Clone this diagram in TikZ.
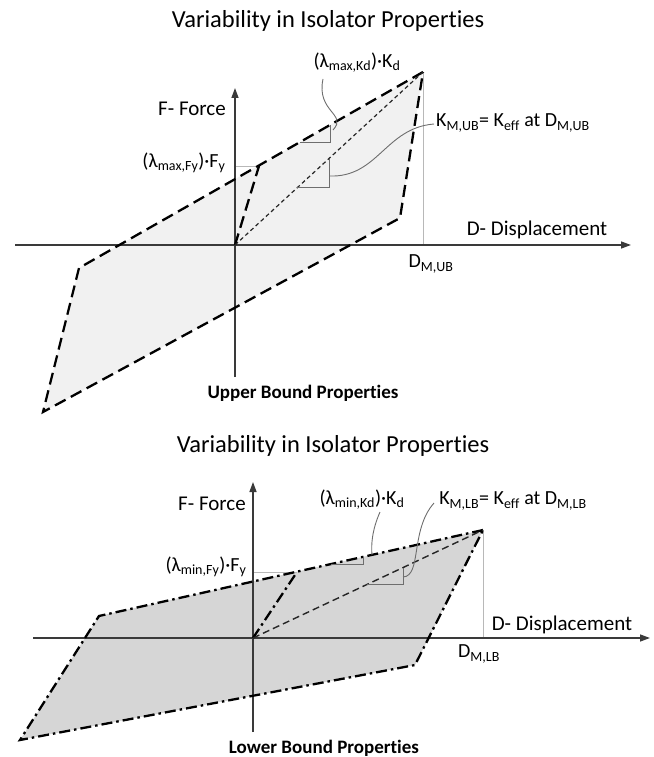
\documentclass[tikz,border=0pt]{standalone}
\usepackage{fontspec}
\setmainfont{Carlito}[Ligatures=NoCommon]
\usetikzlibrary{arrows.meta}
\definecolor{axisgray}{HTML}{3A3A3A}
\definecolor{guidegray}{HTML}{B8B8B8}
\definecolor{leadgray}{HTML}{6E6E6E}
\definecolor{fillub}{HTML}{F1F1F1}
\definecolor{filllb}{HTML}{D6D6D6}
\begin{document}
\begin{tikzpicture}[x=1pt,y=-1pt,
  axis/.style={draw=axisgray,line width=1.4pt,-{Triangle[length=10pt,width=7pt]}},
  guide/.style={draw=guidegray,line width=0.9pt},
  leader/.style={draw=leadgray,line width=0.9pt},
  ubloop/.style={draw=black,line width=2.3pt,dash pattern=on 12pt off 6pt},
  lbloop/.style={draw=black,line width=2.3pt,dash pattern=on 11pt off 4pt on 2.5pt off 4pt},
  ubsec/.style={draw=black!85,line width=1.2pt,dash pattern=on 4pt off 3pt},
  lbsec/.style={draw=black!85,line width=1.4pt,dash pattern=on 7pt off 4pt},
  lbl/.style={inner sep=0pt,font=\fontsize{21}{24}\selectfont},
  sublbl/.style={inner sep=0pt,font=\fontsize{20}{23}\selectfont},
  ttl/.style={inner sep=0pt,font=\fontsize{24.5}{28}\selectfont},
  capt/.style={inner sep=0pt,font=\fontsize{19}{22}\selectfont\bfseries},
]
\useasboundingbox (0,0) rectangle (653,757);

% ---------------- Upper bound panel ----------------
\coordinate (O1) at (235,245);
\coordinate (P1) at (423,72);
\coordinate (LR1) at (400,218);
\coordinate (BL1) at (43,412);
\coordinate (LC1) at (79,268);
\coordinate (Y1) at (259,166);
\coordinate (XL1) at (15,245);
\coordinate (XR1) at (631,245);
\coordinate (YB1) at (235,377);
\coordinate (YT1) at (235,88);
\coordinate (PB1) at (423,245);
\coordinate (YA1) at (235,166);

\fill[fillub] (P1) -- (LC1) -- (BL1) -- (LR1) -- cycle;
\draw[guide] (P1) -- (PB1);
\draw[guide] (YA1) -- (Y1);
\draw[axis] (XL1) -- (XR1);
\draw[axis] (YB1) -- (YT1);
\draw[ubloop] (P1) -- (LC1) -- (BL1) -- (LR1) -- cycle;
\draw[ubloop] (O1) -- (Y1);
\draw[ubsec] (O1) -- (P1);

\coordinate (KdA1) at (300,142.1);
\coordinate (KdB1) at (330,142.1);
\coordinate (KdC1) at (330,125);
\draw[leader] (KdA1) -- (KdB1) -- (KdC1);
\coordinate (KeA1) at (297,187.9);
\coordinate (KeB1) at (329,187.9);
\coordinate (KeC1) at (329,158.5);
\draw[leader] (KeA1) -- (KeB1) -- (KeC1);

\node[ttl] (title1) at (328,21) {Variability in Isolator Properties};
\node[lbl] (force1) at (192,109) {F- Force};
\node[lbl] (disp1) at (537,230) {D- Displacement};
\node[sublbl] (dm1) at (431,264) {D\textsubscript{M,UB}};
\node[sublbl] (fy1) at (184,163) {(λ\textsubscript{max,Fy})·F\textsubscript{y}};
\node[sublbl] (kd1) at (357,63) {(λ\textsubscript{max,Kd})·K\textsubscript{d}};
\node[sublbl] (ke1) at (513,123) {K\textsubscript{M,UB}= K\textsubscript{eff} at D\textsubscript{M,UB}};
\node[capt] (cap1) at (303,393) {Upper Bound Properties};

\coordinate (LdA1) at (323,79);
\coordinate (LdB1) at (333,130);
\draw[leader] (LdA1) .. controls (316,112) and (348,114) .. (LdB1);
\coordinate (LeA1) at (434,124);
\coordinate (LeB1) at (329,176);
\draw[leader] (LeA1) .. controls (385,128) and (378,178) .. (LeB1);

% ---------------- Lower bound panel ----------------
\coordinate (O2) at (253,638);
\coordinate (P2) at (483,530);
\coordinate (LR2) at (415,665);
\coordinate (BL2) at (20,740);
\coordinate (LC2) at (99,616);
\coordinate (Y2) at (297,572);
\coordinate (XL2) at (33,638);
\coordinate (XR2) at (650,638);
\coordinate (YB2) at (253,732);
\coordinate (YT2) at (253,482);
\coordinate (PB2) at (483,638);
\coordinate (YA2) at (253,572);

\fill[filllb] (P2) -- (LC2) -- (BL2) -- (LR2) -- cycle;
\draw[guide] (P2) -- (PB2);
\draw[guide] (YA2) -- (Y2);
\draw[axis] (XL2) -- (XR2);
\draw[axis] (YB2) -- (YT2);
\draw[lbloop] (P2) -- (LC2) -- (BL2) -- (LR2) -- cycle;
\draw[lbloop] (O2) -- (Y2);
\draw[lbsec] (O2) -- (P2);

\coordinate (KdA2) at (331,564);
\coordinate (KdB2) at (363,564);
\coordinate (KdC2) at (363,557);
\draw[leader] (KdA2) -- (KdB2) -- (KdC2);
\coordinate (KeA2) at (367,584.5);
\coordinate (KeB2) at (403,584.5);
\coordinate (KeC2) at (403,567.6);
\draw[leader] (KeA2) -- (KeB2) -- (KeC2);

\node[ttl] (title2) at (333,446) {Variability in Isolator Properties};
\node[lbl] (force2) at (212,504) {F- Force};
\node[lbl] (disp2) at (562,625) {D- Displacement};
\node[sublbl] (dm2) at (479,654) {D\textsubscript{M,LB}};
\node[sublbl] (fy2) at (206,567) {(λ\textsubscript{min,Fy})·F\textsubscript{y}};
\node[sublbl] (kd2) at (362,500) {(λ\textsubscript{min,Kd})·K\textsubscript{d}};
\node[sublbl] (ke2) at (513,501) {K\textsubscript{M,LB}= K\textsubscript{eff} at D\textsubscript{M,LB}};
\node[capt] (cap2) at (324,748) {Lower Bound Properties};

\coordinate (LdA2) at (380,512);
\coordinate (LdB2) at (372,555);
\draw[leader] (LdA2) .. controls (372,530) and (371,545) .. (LdB2);
\coordinate (LeA2) at (434,503);
\coordinate (LeB2) at (403,577);
\draw[leader] (LeA2) .. controls (410,530) and (422,576) .. (LeB2);
\end{tikzpicture}
\end{document}
